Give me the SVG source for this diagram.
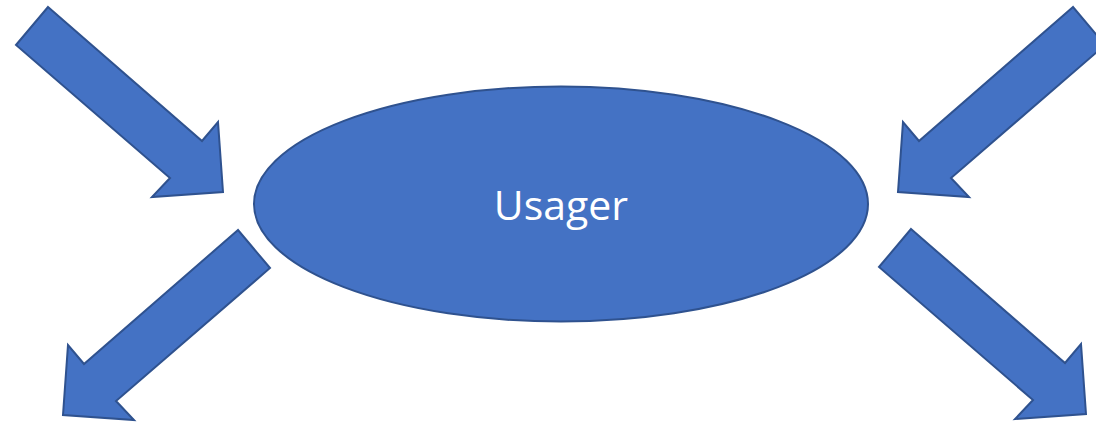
<svg xmlns="http://www.w3.org/2000/svg" width="1096" height="422" viewBox="0 0 1096 422">
<style>
.shape{fill:#4472C4;stroke:#2F528F;stroke-width:2;stroke-linejoin:miter}
.label{fill:#FFFFFF;font-family:"Open Sans","Liberation Sans",sans-serif;font-size:41px;text-anchor:middle}
</style>
<defs>
<polygon id="arrowDR" points="48,7 202,141 218,122 223,192 152,197 170,178 16,45"/>
<polygon id="arrowDL" points="1073,7 919,141 903,122 898,192 969,197 951,178 1105,45"/>
</defs>
<g id="usager">
<ellipse class="shape" cx="561" cy="204" rx="307" ry="117.5"/>
<text class="label" x="561" y="220">Usager</text>
</g>
<g id="connectors">
<use href="#arrowDR" class="shape" id="arrow-top-left"/>
<use href="#arrowDL" class="shape" id="arrow-top-right"/>
<use href="#arrowDL" class="shape" id="arrow-bottom-left" transform="translate(-835,223)"/>
<use href="#arrowDR" class="shape" id="arrow-bottom-right" transform="translate(863,222)"/>
</g>
</svg>
